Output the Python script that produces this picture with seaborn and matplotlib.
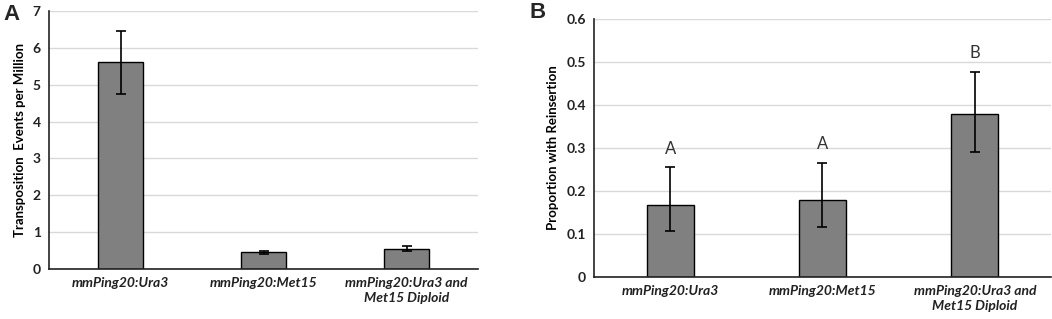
import numpy as np
import pandas as pd
import matplotlib
matplotlib.use("Agg")
import matplotlib.pyplot as plt
import seaborn as sns

# Data
strains = ["mmPing20:Ura3", "mmPing20:Met15", "mmPing20:Ura3 and\nMet15 Diploid"]

events = [5.62, 0.45, 0.55]
events_low = [4.75, 0.41, 0.48]
events_high = [6.45, 0.49, 0.63]

reins = [0.168, 0.179, 0.379]
reins_low = [0.108, 0.117, 0.290]
reins_high = [0.255, 0.265, 0.477]
letters = ["A", "A", "B"]

sns.set_theme(style="white")
plt.rcParams["font.family"] = ["Lato", "DejaVu Sans"]

fig = plt.figure(figsize=(10.52, 3.19), dpi=100)
axA = fig.add_axes([0.0466, 0.1567, 0.4078, 0.8088])
axB = fig.add_axes([0.5646, 0.1317, 0.4344, 0.8087])


def draw(ax, vals, low, high, ymax, step, ylabel, fmt):
    df = pd.DataFrame({"strain": strains, "value": vals})
    sns.barplot(data=df, x="strain", y="value", color="#808080", saturation=1,
                edgecolor="black", linewidth=1.0, width=0.31, errorbar=None, ax=ax)
    v = np.array(vals)
    yerr = [v - np.array(low), np.array(high) - v]
    ax.errorbar(range(len(vals)), v, yerr=yerr, fmt="none", ecolor="black",
                elinewidth=1.2, capsize=3.5, capthick=1.2)
    ax.set_ylim(0, ymax)
    ax.set_xlim(-0.5, len(vals) - 0.5)
    ticks = np.arange(0, ymax + step / 2, step)
    ax.set_yticks(ticks)
    ax.set_yticklabels([fmt(t) for t in ticks], fontsize=10, fontweight="bold",
                       color="#222222")
    ax.set_xticks(range(len(strains)))
    ax.set_xticklabels(strains, fontsize=10, fontweight="bold", style="italic",
                       color="#222222", linespacing=1.25)
    ax.set_xlabel("")
    ax.set_ylabel(ylabel, fontsize=9.5, fontweight="bold", color="black",
                  labelpad=5)
    ax.yaxis.grid(True, color="#d9d9d9", linewidth=1.0)
    ax.set_axisbelow(True)
    for s in ["top", "right"]:
        ax.spines[s].set_visible(False)
    for s in ["left", "bottom"]:
        ax.spines[s].set_color("#222222")
        ax.spines[s].set_linewidth(1.2)
    ax.tick_params(axis="both", length=0, pad=6)


draw(axA, events, events_low, events_high, 7, 1,
     "Transposition  Events per Million", lambda t: f"{t:.0f}")
draw(axB, reins, reins_low, reins_high, 0.6, 0.1,
     "Proportion with Reinsertion", lambda t: "0" if t == 0 else f"{t:.1f}")

for i, (h, lab) in enumerate(zip(reins_high, letters)):
    axB.text(i, h + 0.025, lab, ha="center", va="bottom", fontsize=12,
             color="#333333")

fig.text(0.003, 0.955, "A", fontsize=16, fontweight="bold", ha="left",
         va="center", family="Liberation Sans")
fig.text(0.503, 0.96, "B", fontsize=16, fontweight="bold", ha="left",
         va="center", family="Liberation Sans")

fig.savefig("out.png", dpi=100)
